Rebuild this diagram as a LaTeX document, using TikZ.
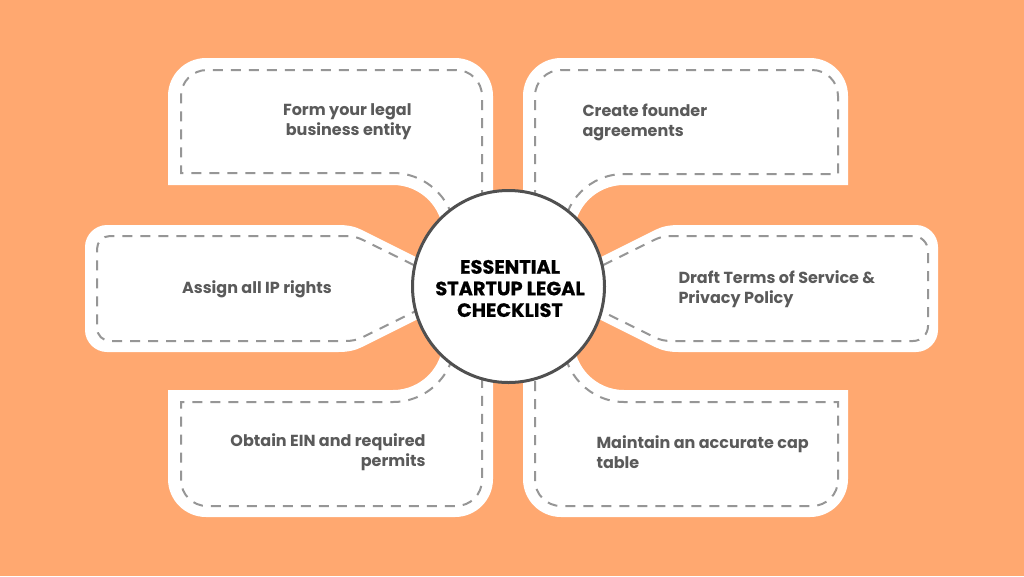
\documentclass[tikz,border=0pt]{standalone}
\usepackage{fontspec}
\setmainfont{Poppins}
\newfontfamily\heavyfont{Poppins}[BoldFeatures={FakeBold=0.6}]
\definecolor{bgorange}{RGB}{255,168,112}
\definecolor{cardgray}{RGB}{90,90,90}
\definecolor{dashgray}{RGB}{150,150,150}
\definecolor{ringgray}{RGB}{80,80,80}
\tikzset{every picture/.style={line width=0.75pt}}
\tikzset{
  cardfill/.style={fill=white, draw=none},
  dashline/.style={draw=dashgray, line width=1.5pt, dash pattern={on 7.5pt off 6pt}},
  cardtext/.style={text=cardgray, font=\fontsize{12}{15}\selectfont\bfseries, inner sep=0pt},
  titletext/.style={text=black, font=\heavyfont\fontsize{14.5}{16.2}\selectfont\bfseries, inner sep=0pt, align=center}
}
\begin{document}
\begin{tikzpicture}[x=0.75pt,y=0.75pt,yscale=-1,xscale=1]
	%Background
	\path [fill=bgorange] (0,0) rectangle (1024,576) ;
	\useasboundingbox (0,0) rectangle (1024,576) ;

	%Shape: Top left card
	\draw [cardfill] (168,185) -- (168,96) .. controls (168,75) and (185,58) .. (206,58) -- (455,58) .. controls (476,58) and (493,75) .. (493,96) -- (493,290) -- (443,290) -- (443,235) .. controls (443,207.4) and (420.6,185) .. (393,185) -- cycle ;
	\draw [dashline] (482,200) -- (482,96) .. controls (482,81.6) and (470.4,70) .. (456,70) -- (207,70) .. controls (192.6,70) and (181,81.6) .. (181,96) -- (181,173) -- (393,173) .. controls (427.2,173) and (455,200.8) .. (455,235) ;
	%Shape: Top right card
	\draw [cardfill] (848,185) -- (848,96) .. controls (848,75) and (831,58) .. (810,58) -- (561,58) .. controls (540,58) and (523,75) .. (523,96) -- (523,290) -- (574,290) -- (574,235) .. controls (574,207.4) and (596.4,185) .. (624,185) -- cycle ;
	\draw [dashline] (535,200) -- (535,96) .. controls (535,81.6) and (546.6,70) .. (561,70) -- (812,70) .. controls (826.4,70) and (838,81.6) .. (838,96) -- (838,174) -- (624,174) .. controls (590.3,174) and (563,201.3) .. (563,235) ;
	%Shape: Middle left card
	\draw [cardfill] (85,247) .. controls (85,235) and (95,225) .. (107,225) -- (338,225) .. controls (348,225) and (355,226.5) .. (362,230) -- (440,269) -- (440,308) -- (362,347) .. controls (355,350.5) and (348,352) .. (338,352) -- (107,352) .. controls (95,352) and (85,342) .. (85,330) -- cycle ;
	\draw [dashline] (430,273) -- (363,240) .. controls (357,237) and (352,236) .. (345,236) -- (110,236) .. controls (102.8,236) and (97,241.8) .. (97,249) -- (97,328) .. controls (97,335.2) and (102.8,341) .. (110,341) -- (345,341) .. controls (352,341) and (357,340) .. (363,337) -- (430,304) ;
	%Shape: Middle right card
	\draw [cardfill] (938,247) .. controls (938,235) and (928,225) .. (916,225) -- (679,225) .. controls (669,225) and (662,226.5) .. (655,230) -- (577,269) -- (577,308) -- (655,347) .. controls (662,350.5) and (669,352) .. (679,352) -- (916,352) .. controls (928,352) and (938,342) .. (938,330) -- cycle ;
	\draw [dashline] (587,273) -- (654,240) .. controls (660,237) and (665,236) .. (672,236) -- (913,236) .. controls (921.3,236) and (928,242.7) .. (928,251) -- (928,326) .. controls (928,334.3) and (921.3,341) .. (913,341) -- (672,341) .. controls (665,341) and (660,340) .. (654,337) -- (587,304) ;
	%Shape: Bottom left card
	\draw [cardfill] (168,390) -- (393,390) .. controls (420.6,390) and (443,367.6) .. (443,340) -- (443,283) -- (493,283) -- (493,479) .. controls (493,500) and (476,517) .. (455,517) -- (206,517) .. controls (185,517) and (168,500) .. (168,479) -- cycle ;
	\draw [dashline] (455,340) .. controls (455,374.2) and (427.2,402) .. (393,402) -- (181,402) -- (181,480) .. controls (181,494.4) and (192.6,506) .. (207,506) -- (456,506) .. controls (470.4,506) and (482,494.4) .. (482,480) -- (482,370) ;
	%Shape: Bottom right card
	\draw [cardfill] (848,390) -- (624,390) .. controls (596.4,390) and (574,367.6) .. (574,340) -- (574,283) -- (523,283) -- (523,479) .. controls (523,500) and (540,517) .. (561,517) -- (810,517) .. controls (831,517) and (848,500) .. (848,479) -- cycle ;
	\draw [dashline] (563,340) .. controls (563,373.7) and (590.3,402) .. (624,402) -- (838,402) -- (838,480) .. controls (838,494.4) and (826.4,506) .. (812,506) -- (561,506) .. controls (546.6,506) and (535,494.4) .. (535,480) -- (535,370) ;

	%Shape: Circle
	\draw [fill=white, draw=ringgray, line width=2.25pt] (508.5,286.5) circle [radius=96] ;

	% Text Node
	\node [titletext] (title) at (510,288.5) {ESSENTIAL\\STARTUP LEGAL\\CHECKLIST};
	% Text Node
	\node [cardtext, align=right, anchor=east] (formentity) at (412,122) {Form your legal\\business entity};
	% Text Node
	\node [cardtext, align=left, anchor=west] (founders) at (582,122) {Create founder\\agreements};
	% Text Node
	\node [cardtext] (iprights) at (257,289) {Assign all IP rights};
	% Text Node
	\node [cardtext, align=left, anchor=west] (terms) at (678,289.5) {Draft Terms of Service \&\\Privacy Policy};
	% Text Node
	\node [cardtext, align=right, anchor=east] (einpermits) at (426,452.5) {Obtain EIN and required\\permits};
	% Text Node
	\node [cardtext, align=left, anchor=west] (captable) at (596,452.5) {Maintain an accurate cap\\table};

\end{tikzpicture}
\end{document}
